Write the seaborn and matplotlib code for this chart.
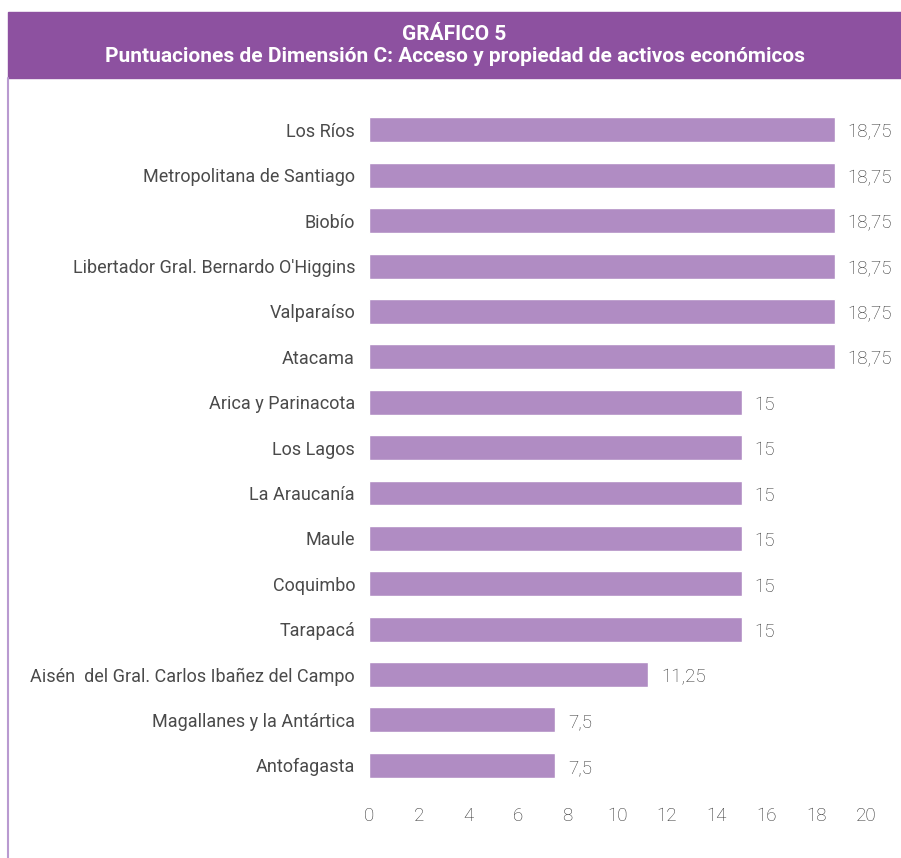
import matplotlib
matplotlib.use("Agg")
import matplotlib.pyplot as plt
from matplotlib.patches import Rectangle
from matplotlib.lines import Line2D
import seaborn as sns
import pandas as pd

# data
regiones = [
    "Los Ríos",
    "Metropolitana de Santiago",
    "Biobío",
    "Libertador Gral. Bernardo O'Higgins",
    "Valparaíso",
    "Atacama",
    "Arica y Parinacota",
    "Los Lagos",
    "La Araucanía",
    "Maule",
    "Coquimbo",
    "Tarapacá",
    "Aisén  del Gral. Carlos Ibañez del Campo",
    "Magallanes y la Antártica",
    "Antofagasta",
]
puntajes = [18.75, 18.75, 18.75, 18.75, 18.75, 18.75,
            15, 15, 15, 15, 15, 15, 11.25, 7.5, 7.5]
x_ticks = [0, 2, 4, 6, 8, 10, 12, 14, 16, 18, 20]

titulo = "GRÁFICO 5\nPuntuaciones de Dimensión C: Acceso y propiedad de activos económicos"

BAR_COLOR = "#b08cc3"
BANNER = "#8d51a0"
TEXT = "#4a4a4a"
LIGHT_TEXT = "#333333"

sns.set_theme(style="white")
plt.rcParams["font.family"] = ["Roboto", "DejaVu Sans"]

df = pd.DataFrame({"region": regiones, "valor": puntajes})

fig = plt.figure(figsize=(9.01, 8.58), dpi=100)
ax = fig.add_axes([0.4095, 0.0816, 0.5515, 0.7934])

sns.barplot(data=df, x="valor", y="region", color=BAR_COLOR, saturation=1,
            width=0.55, ax=ax, orient="h")

ax.set_xlim(0, 20)
ax.set_xticks(x_ticks)
ax.set_xticklabels([str(t) for t in x_ticks], fontweight="light")
ax.set_xlabel("")
ax.set_ylabel("")
for s in ax.spines.values():
    s.set_visible(False)
ax.tick_params(axis="y", length=0, pad=10, labelsize=13, labelcolor=TEXT)
ax.tick_params(axis="x", length=0, pad=14, labelsize=13.5, labelcolor=LIGHT_TEXT)

for i, v in enumerate(puntajes):
    txt = f"{v:g}".replace(".", ",")
    ax.annotate(txt, xy=(v, i), xytext=(9, -2), textcoords="offset points",
                ha="left", va="center", fontsize=13.5, color=LIGHT_TEXT,
                fontweight="light")

# title banner and left frame line
fig.patches.append(Rectangle((8 / 901, 1 - 78 / 858), 1 - 8 / 901, 66 / 858,
                             transform=fig.transFigure, color=BANNER, zorder=0))
fig.lines.append(Line2D([8 / 901, 8 / 901], [0, 1 - 78 / 858],
                        transform=fig.transFigure, color="#b99ad0", lw=1.5))
fig.text(0.5 + 4 / 901, 1 - 45 / 858, titulo, ha="center", va="center",
         color="white", fontsize=15, fontweight="bold", linespacing=1.2)

fig.savefig("out.png", dpi=100)
